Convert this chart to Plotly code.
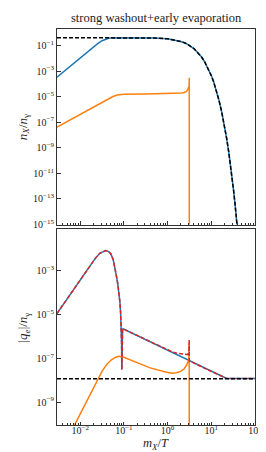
import numpy as np
import plotly.graph_objects as go

# ---------------- data (log10 values) ----------------
# top panel: n_X / n_gamma
top_eq_logx = [-2.53, -1.0, -0.5, -0.3, 0.0, 0.176, 0.301, 0.4, 0.477, 0.602, 0.699, 0.77,
               0.845, 0.92, 1.0, 1.05, 1.1, 1.176, 1.24, 1.301, 1.35, 1.398, 1.44, 1.477,
               1.51, 1.544, 1.602]
top_eq_logy = [-0.381, -0.382, -0.392, -0.406, -0.471, -0.564, -0.675, -0.801, -0.939, -1.237,
               -1.559, -1.860, -2.248, -2.725, -3.349, -3.80, -4.344, -5.282, -6.226, -7.279,
               -8.247, -9.312, -10.355, -11.370, -12.348, -13.445, -15.53]

top_blue_logx = [-2.53, -2.2, -1.9, -1.7, -1.6, -1.5, -1.42, -1.35, -1.25, -1.0, -0.5, -0.3,
                 0.0, 0.176, 0.301, 0.4, 0.477, 0.602, 0.699, 0.77, 0.845, 0.92, 1.0, 1.05,
                 1.1, 1.176, 1.24, 1.301, 1.35, 1.398, 1.44, 1.477, 1.51, 1.544, 1.602]
top_blue_logy = [-3.48, -2.53, -1.67, -1.10, -0.84, -0.62, -0.49, -0.42, -0.39, -0.382, -0.392,
                 -0.406, -0.471, -0.564, -0.675, -0.801, -0.939, -1.237, -1.559, -1.860, -2.248,
                 -2.725, -3.349, -3.80, -4.344, -5.282, -6.226, -7.279, -8.247, -9.312, -10.355,
                 -11.370, -12.348, -13.445, -15.53]

top_orange_logx = [-2.53, -2.0, -1.5, -1.35, -1.25, -1.15, -1.0, -0.5, 0.0, 0.2, 0.33, 0.38,
                   0.43, 0.458, 0.48, 0.492, 0.496, 0.497]
top_orange_logy = [-7.39, -6.38, -5.43, -5.16, -4.99, -4.87, -4.82, -4.80, -4.78, -4.75, -4.71,
                   -4.68, -4.60, -4.45, -4.33, -4.20, -3.53, -20.0]

# bottom panel: |q_e| / n_gamma
bot_blue_logx = [-2.53, -2.2, -1.9, -1.65, -1.55, -1.47, -1.415, -1.35, -1.3, -1.245, -1.2,
                 -1.17, -1.14, -1.11, -1.09, -1.075, -1.06, -1.052, -1.047, -1.04, -1.03,
                 -1.02, 0.0, 0.5, 1.0, 1.28, 1.34, 1.4, 2.0]
bot_blue_logy = [-4.95, -4.00, -3.13, -2.42, -2.20, -2.10, -2.07, -2.12, -2.22, -2.48, -2.85,
                 -3.24, -3.60, -4.00, -4.45, -4.92, -5.50, -6.30, -7.52, -6.00, -5.70,
                 -5.65, -6.635, -7.12, -7.60, -7.87, -7.91, -7.92, -7.92]

bot_red_logx = [-2.53, -2.2, -1.9, -1.65, -1.55, -1.47, -1.415, -1.35, -1.3, -1.245, -1.2,
                -1.17, -1.14, -1.11, -1.09, -1.075, -1.06, -1.052, -1.047, -1.04, -1.03,
                -1.02, 0.0, 0.1, 0.2, 0.3, 0.4, 0.46, 0.488, 0.494, 0.497, 1.0, 1.28, 1.34,
                1.4, 2.0]
bot_red_logy = [-4.95, -4.00, -3.13, -2.42, -2.20, -2.10, -2.07, -2.12, -2.22, -2.48, -2.85,
                -3.24, -3.60, -4.00, -4.45, -4.92, -5.50, -6.30, -7.52, -6.00, -5.70,
                -5.65, -6.62, -6.70, -6.76, -6.80, -6.83, -6.83, -6.70, -6.15, -7.12, -7.60,
                -7.87, -7.91, -7.92, -7.92]

bot_orange_logx = [-2.2, -1.9, -1.7, -1.6, -1.5, -1.4, -1.3, -1.2, -1.12, -1.0, -0.8, -0.6,
                   -0.4, -0.2, 0.0, 0.1, 0.2, 0.3, 0.38, 0.43, 0.47, 0.488, 0.494, 0.497]
bot_orange_logy = [-10.33, -9.15, -8.35, -7.95, -7.60, -7.30, -7.09, -6.96, -6.91, -6.95, -7.10,
                   -7.28, -7.44, -7.56, -7.65, -7.68, -7.66, -7.60, -7.48, -7.33, -7.15, -6.95,
                   -6.30, -12.0]

bot_eq_logx = [-2.53, 2.0]
bot_eq_logy = [-7.93, -7.93]

title_text = "strong washout+early evaporation"
top_ytick_exp = [-1, -3, -5, -7, -9, -11, -13, -15]
bot_ytick_exp = [-3, -5, -7, -9]
xtick_exp = [-2, -1, 0, 1, 2]

# ---------------- figure ----------------
def p(v):
    return list(10 ** np.array(v, dtype=float))

BLUE, ORANGE, RED = "#1f77b4", "#ff7f0e", "#d62728"
LW = 1.5
fig = go.Figure()
fig.add_trace(go.Scatter(x=p(top_blue_logx), y=p(top_blue_logy), mode="lines",
                         line=dict(color=BLUE, width=LW), xaxis="x", yaxis="y"))
fig.add_trace(go.Scatter(x=p(top_orange_logx), y=p(top_orange_logy), mode="lines",
                         line=dict(color=ORANGE, width=LW), xaxis="x", yaxis="y"))
fig.add_trace(go.Scatter(x=p(top_eq_logx), y=p(top_eq_logy), mode="lines",
                         line=dict(color="black", width=LW, dash="4px,2px"), xaxis="x", yaxis="y"))

fig.add_trace(go.Scatter(x=p(bot_blue_logx), y=p(bot_blue_logy), mode="lines",
                         line=dict(color=BLUE, width=LW), xaxis="x2", yaxis="y2"))
fig.add_trace(go.Scatter(x=p(bot_orange_logx), y=p(bot_orange_logy), mode="lines",
                         line=dict(color=ORANGE, width=LW), xaxis="x2", yaxis="y2"))
fig.add_trace(go.Scatter(x=p(bot_red_logx), y=p(bot_red_logy), mode="lines",
                         line=dict(color=RED, width=LW, dash="4px,2px"), xaxis="x2", yaxis="y2"))
fig.add_trace(go.Scatter(x=p(bot_eq_logx), y=p(bot_eq_logy), mode="lines",
                         line=dict(color="black", width=LW, dash="4px,2px"), xaxis="x2", yaxis="y2"))

FONT = "Liberation Serif"
minor_vals = [m * 10.0 ** e for e in range(-3, 2) for m in range(2, 10)]


def sup(e):
    s = str(e).replace("-", "\u2212")
    return "10<sup>" + s + "</sup>"


axis_common = dict(type="log", showgrid=False, showline=True, linecolor="#333", linewidth=1,
                   mirror=True, ticks="inside", ticklen=3.5, tickwidth=0.8, tickcolor="#333",
                   tickfont=dict(family=FONT, size=10, color="#222"), zeroline=False)
xr = [-2.53, 2.0]
fig.update_layout(
    width=266, height=452, showlegend=False,
    margin=dict(l=49, r=13, t=21, b=35),
    paper_bgcolor="white", plot_bgcolor="white",
    xaxis=dict(axis_common, domain=[0, 1], anchor="y", range=xr,
               tickvals=[10.0 ** e for e in xtick_exp], showticklabels=False,
               minor=dict(tickvals=minor_vals, ticks="inside", ticklen=2, tickcolor="#333", tickwidth=0.6)),
    yaxis=dict(axis_common, domain=[0.5063, 1], anchor="x", range=[-15.02, 0.30],
               tickvals=[10.0 ** e for e in top_ytick_exp], ticktext=[sup(e) for e in top_ytick_exp]),
    xaxis2=dict(axis_common, domain=[0, 1], anchor="y2", range=xr,
                tickvals=[10.0 ** e for e in xtick_exp], ticktext=[sup(e) for e in xtick_exp],
                ticklabelstandoff=-4,
                minor=dict(tickvals=minor_vals, ticks="inside", ticklen=2, tickcolor="#333", tickwidth=0.6)),
    yaxis2=dict(axis_common, domain=[0, 0.4949], anchor="x2", range=[-10.05, -1.09],
                tickvals=[10.0 ** e for e in bot_ytick_exp], ticktext=[sup(e) for e in bot_ytick_exp]),
)

ann_font = dict(family=FONT, size=13, color="#222")
fig.add_annotation(text=title_text, xref="paper", yref="paper", x=0.5, y=1.028,
                   xanchor="center", yanchor="middle", showarrow=False,
                   font=dict(family=FONT, size=12.5, color="#222"))
fig.add_annotation(text="<i>n</i><sub><i>X</i></sub>/<i>n</i><sub>\u03b3</sub>",
                   xref="paper", yref="paper", x=-0.17, y=0.753, textangle=-90,
                   xanchor="center", yanchor="middle", showarrow=False, font=ann_font)
fig.add_annotation(text="|<i>q</i><sub><i>e</i></sub>|/<i>n</i><sub>\u03b3</sub>",
                   xref="paper", yref="paper", x=-0.17, y=0.247, textangle=-90,
                   xanchor="center", yanchor="middle", showarrow=False, font=ann_font)
fig.add_annotation(text="<i>m</i><sub><i>X</i></sub>/<i>T</i>",
                   xref="paper", yref="paper", x=0.5, y=-0.047, borderpad=0,
                   xanchor="center", yanchor="middle", showarrow=False,
                   font=dict(family=FONT, size=12.5, color="#222"))

fig.write_html("out.html")
